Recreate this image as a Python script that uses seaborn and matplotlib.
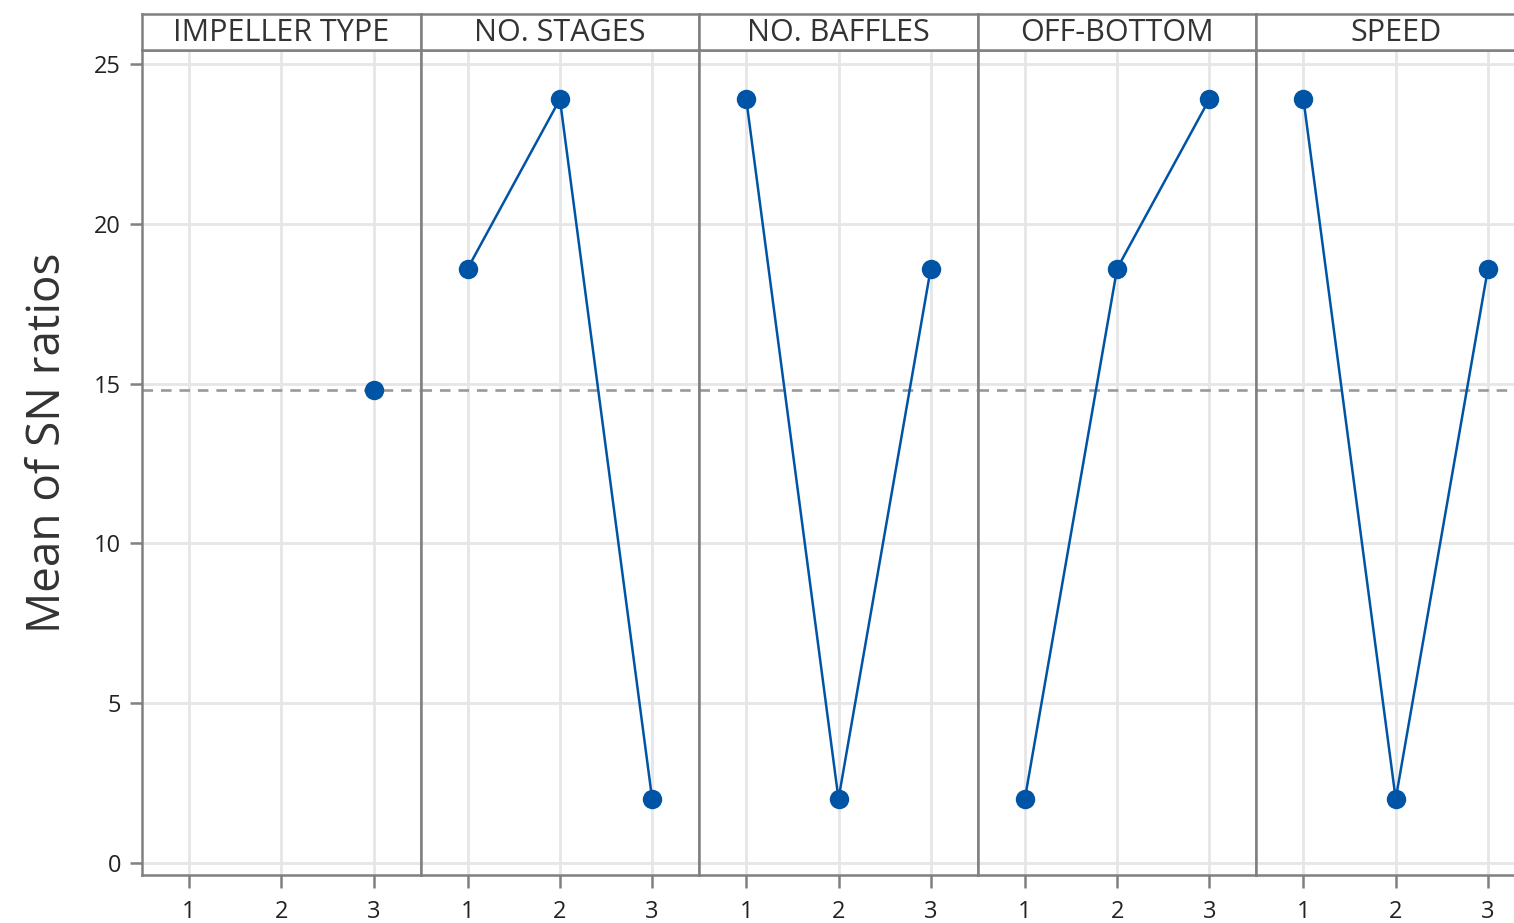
import matplotlib
matplotlib.use("Agg")
import matplotlib.pyplot as plt
import seaborn as sns
import pandas as pd

sns.set_theme(style="white")
plt.rcParams["font.family"] = ["Open Sans", "DejaVu Sans"]

# Main effects of SN ratios, one panel per factor
factors = ["IMPELLER TYPE", "NO. STAGES", "NO. BAFFLES", "OFF-BOTTOM", "SPEED"]
levels = [1, 2, 3]
impeller_type = [None, None, 14.8]
no_stages = [18.6, 23.9, 2.0]
no_baffles = [23.9, 2.0, 18.6]
off_bottom = [2.0, 18.6, 23.9]
speed = [23.9, 2.0, 18.6]
grand_mean = 14.8
y_ticks = [0, 5, 10, 15, 20, 25]

series = [impeller_type, no_stages, no_baffles, off_bottom, speed]
rows = []
for f, vals in zip(factors, series):
    for lv, v in zip(levels, vals):
        if v is not None:
            rows.append({"factor": f, "level": lv, "value": v})
df = pd.DataFrame(rows)

W, H = 1514, 923
fig = plt.figure(figsize=(W / 100, H / 100), dpi=100)

frame_c = "#808080"
grid_c = "#E6E6E6"
line_c = "#0054A6"
text_c = "#333333"

x_left = 142
panel_w = 278.6
plot_top, plot_bot = 50, 875
head_top = 14

for i, f in enumerate(factors):
    x0 = x_left + panel_w * i
    ax = fig.add_axes([x0 / W, 1 - plot_bot / H, panel_w / W, (plot_bot - plot_top) / H])
    sub = df[df["factor"] == f]
    ax.axhline(grand_mean, color="#999999", lw=1.9, dashes=(4, 3), zorder=2)
    sns.lineplot(data=sub, x="level", y="value", ax=ax, color=line_c, lw=1.8,
                 marker="o", markersize=14, markeredgewidth=0, zorder=3)
    ax.set_xlim(0.49, 3.51)
    ax.set_ylim(-0.38, 25.44)
    ax.set_xticks(levels)
    ax.set_xticklabels([str(l) for l in levels])
    ax.set_yticks(y_ticks)
    ax.grid(True, color=grid_c, lw=2, zorder=0)
    ax.set_axisbelow(True)
    for s in ax.spines.values():
        s.set_color(frame_c)
        s.set_linewidth(1.8)
    ax.tick_params(axis="x", length=9, width=1.8, color=frame_c, labelsize=17,
                   labelcolor="#222222", pad=9, bottom=True)
    if i == 0:
        ax.tick_params(axis="y", length=9, width=1.8, color=frame_c, labelsize=17,
                       labelcolor="#222222", pad=6, left=True)
    else:
        ax.tick_params(axis="y", left=False, labelleft=False)
    ax.set_ylabel("")
    ax.set_xlabel("")

    hx = fig.add_axes([x0 / W, 1 - plot_top / H, panel_w / W, (plot_top - head_top) / H])
    hx.set_xticks([])
    hx.set_yticks([])
    for s in hx.spines.values():
        s.set_color(frame_c)
        s.set_linewidth(1.8)
    hx.text(0.5, 0.47, f, ha="center", va="center", fontsize=22, color=text_c,
            transform=hx.transAxes)

fig.text(48 / W, 1 - 443 / H, "Mean of SN ratios", rotation=90, ha="center",
         va="center", fontsize=33, color=text_c)

fig.savefig("out.png", dpi=100)
